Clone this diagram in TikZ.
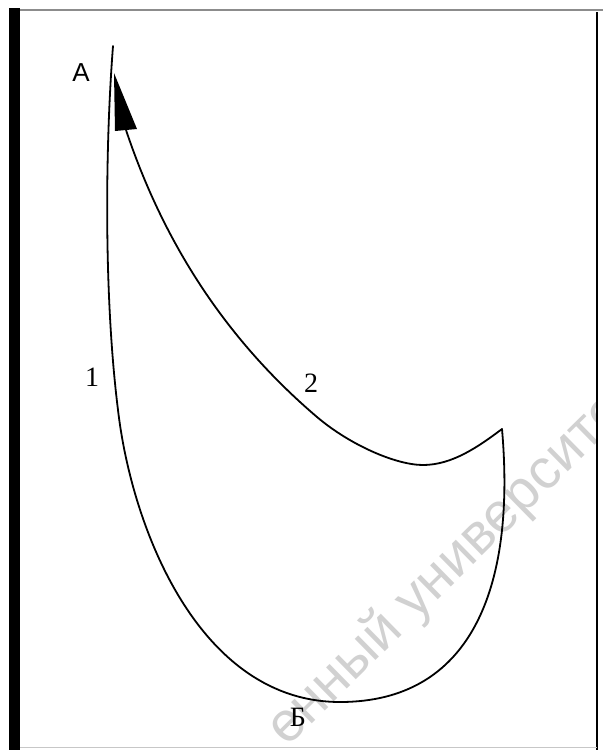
\documentclass[tikz,border=0pt]{standalone}
\usepackage{fontspec}
\setmainfont{Liberation Serif}
\newfontfamily\wmfont{Liberation Sans}
\newfontfamily\labsans{Liberation Sans}
\begin{document}
\begin{tikzpicture}[x=1pt,y=-1pt,
  curve/.style={line width=1.8pt, line join=round, line cap=round},
  lab/.style={font=\fontsize{28}{32}\selectfont, inner sep=0pt}]
\useasboundingbox (0,0) rectangle (603,750);
\fill[white] (0,0) rectangle (603,750);
% watermark
\begin{scope}
  \clip (20,12) rectangle (596,748);
  \node[rotate=44.5, anchor=base west, text=black!18, inner sep=0pt,
        font=\wmfont\fontsize{56}{60}\selectfont] (wm) at (287,748) {енный университет};
\end{scope}
% frame
\fill[black] (9,8) rectangle (20,750);
\draw[black!45, line width=1.5pt] (20,10) -- (603,10);
\draw[black, line width=1.8pt] (597,12) -- (597,750);
\draw[black!22, line width=1pt] (20,747) -- (597,747);
% key points
\coordinate (A) at (113,46);
\coordinate (B) at (340,702);
\coordinate (C) at (502,429);
\coordinate (M) at (423,465);
\coordinate (T) at (114,73);
% curve 1: A -> left -> bottom -> right corner
\draw[curve] (A) .. controls (105,150) and (104,298) .. (118,410)
  .. controls (132,530) and (200,702) .. (B)
  .. controls (470,702) and (516,590) .. (C);
% curve 2: right corner -> A
\draw[curve] (C) .. controls (478,447) and (452,465) .. (M)
  .. controls (396,465) and (350,445) .. (317,417)
  .. controls (229,342) and (166,248) .. (127,133) -- (118,104);
% arrowhead
\fill[black] (T) -- (115,131) -- (137,129) -- cycle;
% labels
\node[lab, font=\labsans\fontsize{26}{30}\selectfont] (lA) at (81,73) {А};
\node[lab] (l1) at (92,377) {1};
\node[lab] (l2) at (311,383) {2};
\node[lab] (lB) at (298,717) {Б};
\end{tikzpicture}
\end{document}
